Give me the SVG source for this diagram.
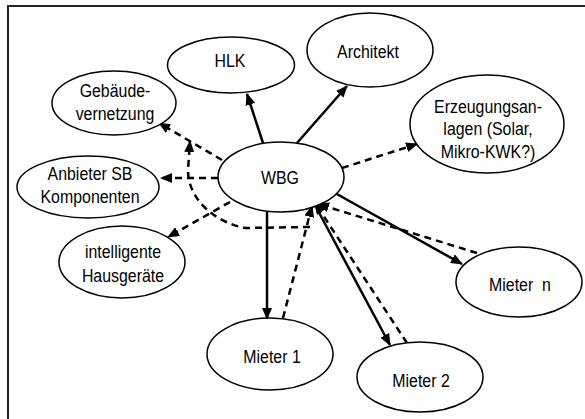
<svg xmlns="http://www.w3.org/2000/svg" width="585" height="419" viewBox="0 0 585 419">
  <defs>
    <marker id="arrow" markerUnits="userSpaceOnUse" markerWidth="12" markerHeight="10" refX="11" refY="5" orient="auto" viewBox="0 0 12 10">
      <path d="M0,0 L12,5 L0,10 Z" fill="#000"/>
    </marker>
    <style>
      .node ellipse { fill: #fff; stroke: #000; stroke-width: 1.5; }
      .node text { font-family: "Liberation Sans", Arial, sans-serif; font-size: 18.5px; fill: #000; text-anchor: middle; }
      .solid { fill: none; stroke: #000; stroke-width: 2.5; marker-end: url(#arrow); }
      .dash { fill: none; stroke: #000; stroke-width: 2.5; stroke-dasharray: 7 5; marker-end: url(#arrow); }
    </style>
  </defs>

  <rect width="585" height="419" fill="#fff"/>
  <!-- frame: top and left edges -->
  <path d="M8,419 V6 H585" fill="none" stroke="#222" stroke-width="2"/>

  <!-- connectors -->
  <g id="connectors">
    <line class="solid" x1="263" y1="143" x2="247" y2="94"/>
    <line class="solid" x1="297" y1="143" x2="347" y2="86"/>
    <line class="dash" x1="342" y1="168" x2="417" y2="144"/>
    <line class="dash" x1="222" y1="160" x2="159" y2="123"/>
    <line class="dash" x1="218" y1="178" x2="161" y2="178"/>
    <line class="dash" x1="230" y1="202" x2="168" y2="237"/>
    <path class="dash" d="M310,227 L245,228 C215,222 188,200 188,170 L190,141"/>
    <line class="solid" x1="267" y1="212" x2="267" y2="319"/>
    <line class="dash" x1="283" y1="318" x2="312" y2="206"/>
    <line class="solid" x1="316" y1="207" x2="390" y2="345"/>
    <line class="dash" x1="407" y1="343" x2="315" y2="203"/>
    <line class="solid" x1="335" y1="193" x2="462" y2="264"/>
    <line class="dash" x1="477" y1="253" x2="318" y2="204"/>
  </g>

  <g id="hlk" class="node">
    <ellipse cx="231" cy="65" rx="63.5" ry="28"/>
    <text transform="translate(230 67) scale(0.86 1)">HLK</text>
  </g>

  <g id="architekt" class="node">
    <ellipse cx="370" cy="50" rx="63" ry="37"/>
    <text transform="translate(368 58) scale(0.86 1)">Architekt</text>
  </g>

  <g id="gebaeudevernetzung" class="node">
    <ellipse cx="114" cy="103" rx="62" ry="32"/>
    <text transform="translate(115 97) scale(0.86 1)">Gebäude-</text>
    <text transform="translate(115 120) scale(0.86 1)">vernetzung</text>
  </g>

  <g id="erzeugungsanlagen" class="node">
    <ellipse cx="487" cy="124" rx="77" ry="49"/>
    <text transform="translate(488 113) scale(0.86 1)">Erzeugungsan-</text>
    <text transform="translate(488 135) scale(0.86 1)">lagen (Solar,</text>
    <text transform="translate(488 158) scale(0.86 1)">Mikro-KWK?)</text>
  </g>

  <g id="anbieter" class="node">
    <ellipse cx="88" cy="187" rx="71" ry="31"/>
    <text transform="translate(90 180) scale(0.86 1)">Anbieter SB</text>
    <text transform="translate(90 203) scale(0.86 1)">Komponenten</text>
  </g>

  <g id="wbg" class="node">
    <ellipse cx="281" cy="177" rx="63" ry="35"/>
    <text transform="translate(280 184) scale(0.86 1)">WBG</text>
  </g>

  <g id="hausgeraete" class="node">
    <ellipse cx="122" cy="262" rx="63" ry="36"/>
    <text transform="translate(123 258) scale(0.86 1)">intelligente</text>
    <text transform="translate(123 282) scale(0.86 1)">Hausgeräte</text>
  </g>

  <g id="mieter1" class="node">
    <ellipse cx="270" cy="354" rx="63" ry="36"/>
    <text transform="translate(272 363) scale(0.86 1)">Mieter 1</text>
  </g>

  <g id="mieter2" class="node">
    <ellipse cx="420" cy="377" rx="63" ry="35"/>
    <text transform="translate(421 387) scale(0.86 1)">Mieter 2</text>
  </g>

  <g id="mietern" class="node">
    <ellipse cx="519" cy="282" rx="63" ry="35"/>
    <text transform="translate(520 291) scale(0.86 1)" style="white-space:pre">Mieter  n</text>
  </g>
</svg>
